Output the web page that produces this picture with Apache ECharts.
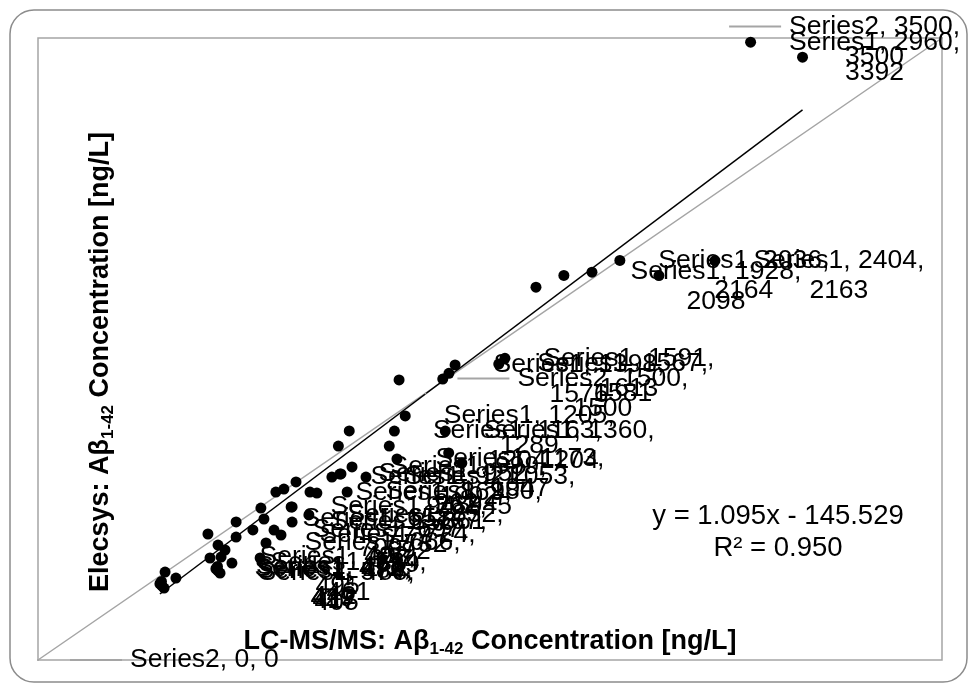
<!DOCTYPE html>
<html>
<head>
<meta charset="utf-8">
<script src="https://cdn.jsdelivr.net/npm/echarts@6/dist/echarts.min.js"></script>
<style>
  html, body { margin: 0; padding: 0; background: #fff; }
  #chart { width: 971px; height: 686px; }
</style>
</head>
<body>
<div id="chart"></div>
<script>
// Series1: LC-MS/MS (x) vs Elecsys (y), ng/L
const s1X = [2960, 2404, 2036, 1928, 1591, 1567, 1398, 1205, 1360, 1163, 1173, 1053, 999, 980, 952, 921, 863, 832, 767, 767, 724, 697, 666, 658, 534, 492, 478, 480, 488, 472, 1590, 1641, 860]
const s1Y = [3392, 2163, 2164, 2098, 1613, 1581, 1576, 1289, 1204, 1204, 1047, 945, 1002, 861, 962, 945, 855, 732, 777, 692, 619, 647, 574, 709, 461, 495, 442, 417, 405, 429, 1165, 1108, 574]
// 1 = data label shown on that point
const s1Labeled = [1, 1, 1, 1, 1, 1, 1, 1, 1, 1, 1, 1, 1, 1, 1, 1, 1, 1, 1, 1, 1, 1, 1, 1, 1, 1, 1, 1, 1, 1, 0, 0, 0]

// Series2: line of identity
const s2X = [0, 1500, 3500]
const s2Y = [0, 1500, 3500]

// linear trendline of Series1
const fitSlope = 1.095
const fitIntercept = -145.529
const fitR2 = 0.950

const axisMax = 3500

const font = "'Liberation Sans', Arial, sans-serif"
const grey = "#a5a5a5"

const xMin = Math.min(...s1X)
const xMax = Math.max(...s1X)
const fitData = [
  [xMin, fitSlope * xMin + fitIntercept],
  [xMax, fitSlope * xMax + fitIntercept],
]

const labelText = (name, x, y) => {
  const full = `${name}, ${x}, ${y}`
  return full.length > 14
    ? [`${name}, ${x},`, `${y}`]
    : [full]
}

const s1Format = (p) => {
  const lines = labelText("Series1", p.value[0], p.value[1])
  let out = `{g1|}{dot|}{g2|}{t|${lines[0]}}`
  if (lines[1]) out += `\n{sp|}{t|${lines[1]}}`
  return out
}

const s2Format = (p) => {
  const lines = labelText("Series2", p.value[0], p.value[1])
  let out = `{h1|}{ln|}{h2|}{t|${lines[0]}}`
  if (lines[1]) out += `\n{sp2|}{t|${lines[1]}}`
  return out
}

const textStyle = { fontSize: 26.5, fontFamily: font, color: "#000", align: "center", lineHeight: 30 }

const richKeys = {
  g1: { width: 25 },
  dot: { width: 11, height: 11, borderRadius: 6, backgroundColor: "#000" },
  g2: { width: 33 },
  sp: { width: 69 },
  h1: { width: 6 },
  ln: { width: 52, height: 2, backgroundColor: grey },
  h2: { width: 8 },
  sp2: { width: 66 },
  t: textStyle,
}

// keep labels inside the chart area, like the spreadsheet does
const clampLabel = (p) => {
  const r = p.labelRect
  return {
    dx: Math.min(0, 960 - (r.x + r.width)),
    dy: Math.max(0, 13 - r.y),
  }
}

const subTitle = (before, after) => `{b|${before}}{s|1-42}{b|${after}}`
const titleRich = {
  b: { fontSize: 27, fontWeight: "bold", fontFamily: font, color: "#000", lineHeight: 32 },
  s: { fontSize: 17, fontWeight: "bold", fontFamily: font, color: "#000", verticalAlign: "bottom", lineHeight: 20 },
}

const chart = echarts.init(document.getElementById("chart"))

const option = {
  animation: false,
  grid: {
    left: 38,
    top: 38,
    right: 29,
    bottom: 26,
    show: true,
    borderColor: grey,
    borderWidth: 1.5,
    backgroundColor: "transparent",
  },
  xAxis: {
    type: "value",
    min: 0,
    max: axisMax,
    axisLine: { show: false },
    axisTick: { show: false },
    axisLabel: { show: false },
    splitLine: { show: false },
    name: subTitle("LC-MS/MS: Aβ", " Concentration [ng/L]"),
    nameLocation: "middle",
    nameGap: -34,
    nameTextStyle: { rich: titleRich },
  },
  yAxis: {
    type: "value",
    min: 0,
    max: axisMax,
    axisLine: { show: false },
    axisTick: { show: false },
    axisLabel: { show: false },
    splitLine: { show: false },
    name: subTitle("Elecsys: Aβ", " Concentration [ng/L]"),
    nameLocation: "middle",
    nameRotate: 90,
    nameGap: -79,
    nameTextStyle: { rich: titleRich, padding: [0, 26, 0, 0] },
  },
  graphic: [
    {
      type: "rect",
      shape: { x: 10, y: 10, width: 957, height: 672, r: 24 },
      style: { fill: "none", stroke: "#8c8c8c", lineWidth: 1.5 },
      silent: true,
    },
    {
      type: "text",
      left: 652,
      top: 500,
      style: {
        text: `y = ${fitSlope.toFixed(3)}x - ${Math.abs(fitIntercept).toFixed(3)}\nR² = ${fitR2.toFixed(3)}`,
        font: `27.5px ${font}`,
        fill: "#000",
        textAlign: "center",
        lineHeight: 32,
        width: 252,
      },
    },
  ],
  series: [
    {
      name: "Series1",
      type: "scatter",
      symbol: "circle",
      symbolSize: 11,
      itemStyle: { color: "#000", opacity: 1 },
      data: s1X.map((x, i) => ({
        value: [x, s1Y[i]],
        label: { show: s1Labeled[i] === 1 },
      })),
      label: {
        position: "right",
        distance: 20,
        formatter: s1Format,
        rich: richKeys,
      },
      labelLayout: clampLabel,
      z: 3,
    },
    {
      name: "Series2",
      type: "line",
      data: s2X.map((x, i) => [x, s2Y[i]]),
      symbol: "circle",
      symbolSize: 2,
      showSymbol: true,
      itemStyle: { color: grey },
      lineStyle: { color: grey, width: 1.5 },
      label: {
        show: true,
        position: "right",
        distance: 25,
        formatter: s2Format,
        rich: richKeys,
      },
      labelLayout: clampLabel,
      z: 2,
    },
    {
      name: "Linear (Series1)",
      type: "line",
      data: fitData,
      symbol: "none",
      lineStyle: { color: "#000", width: 1.5 },
      z: 2,
    },
  ],
}

chart.setOption(option)
</script>
</body>
</html>
